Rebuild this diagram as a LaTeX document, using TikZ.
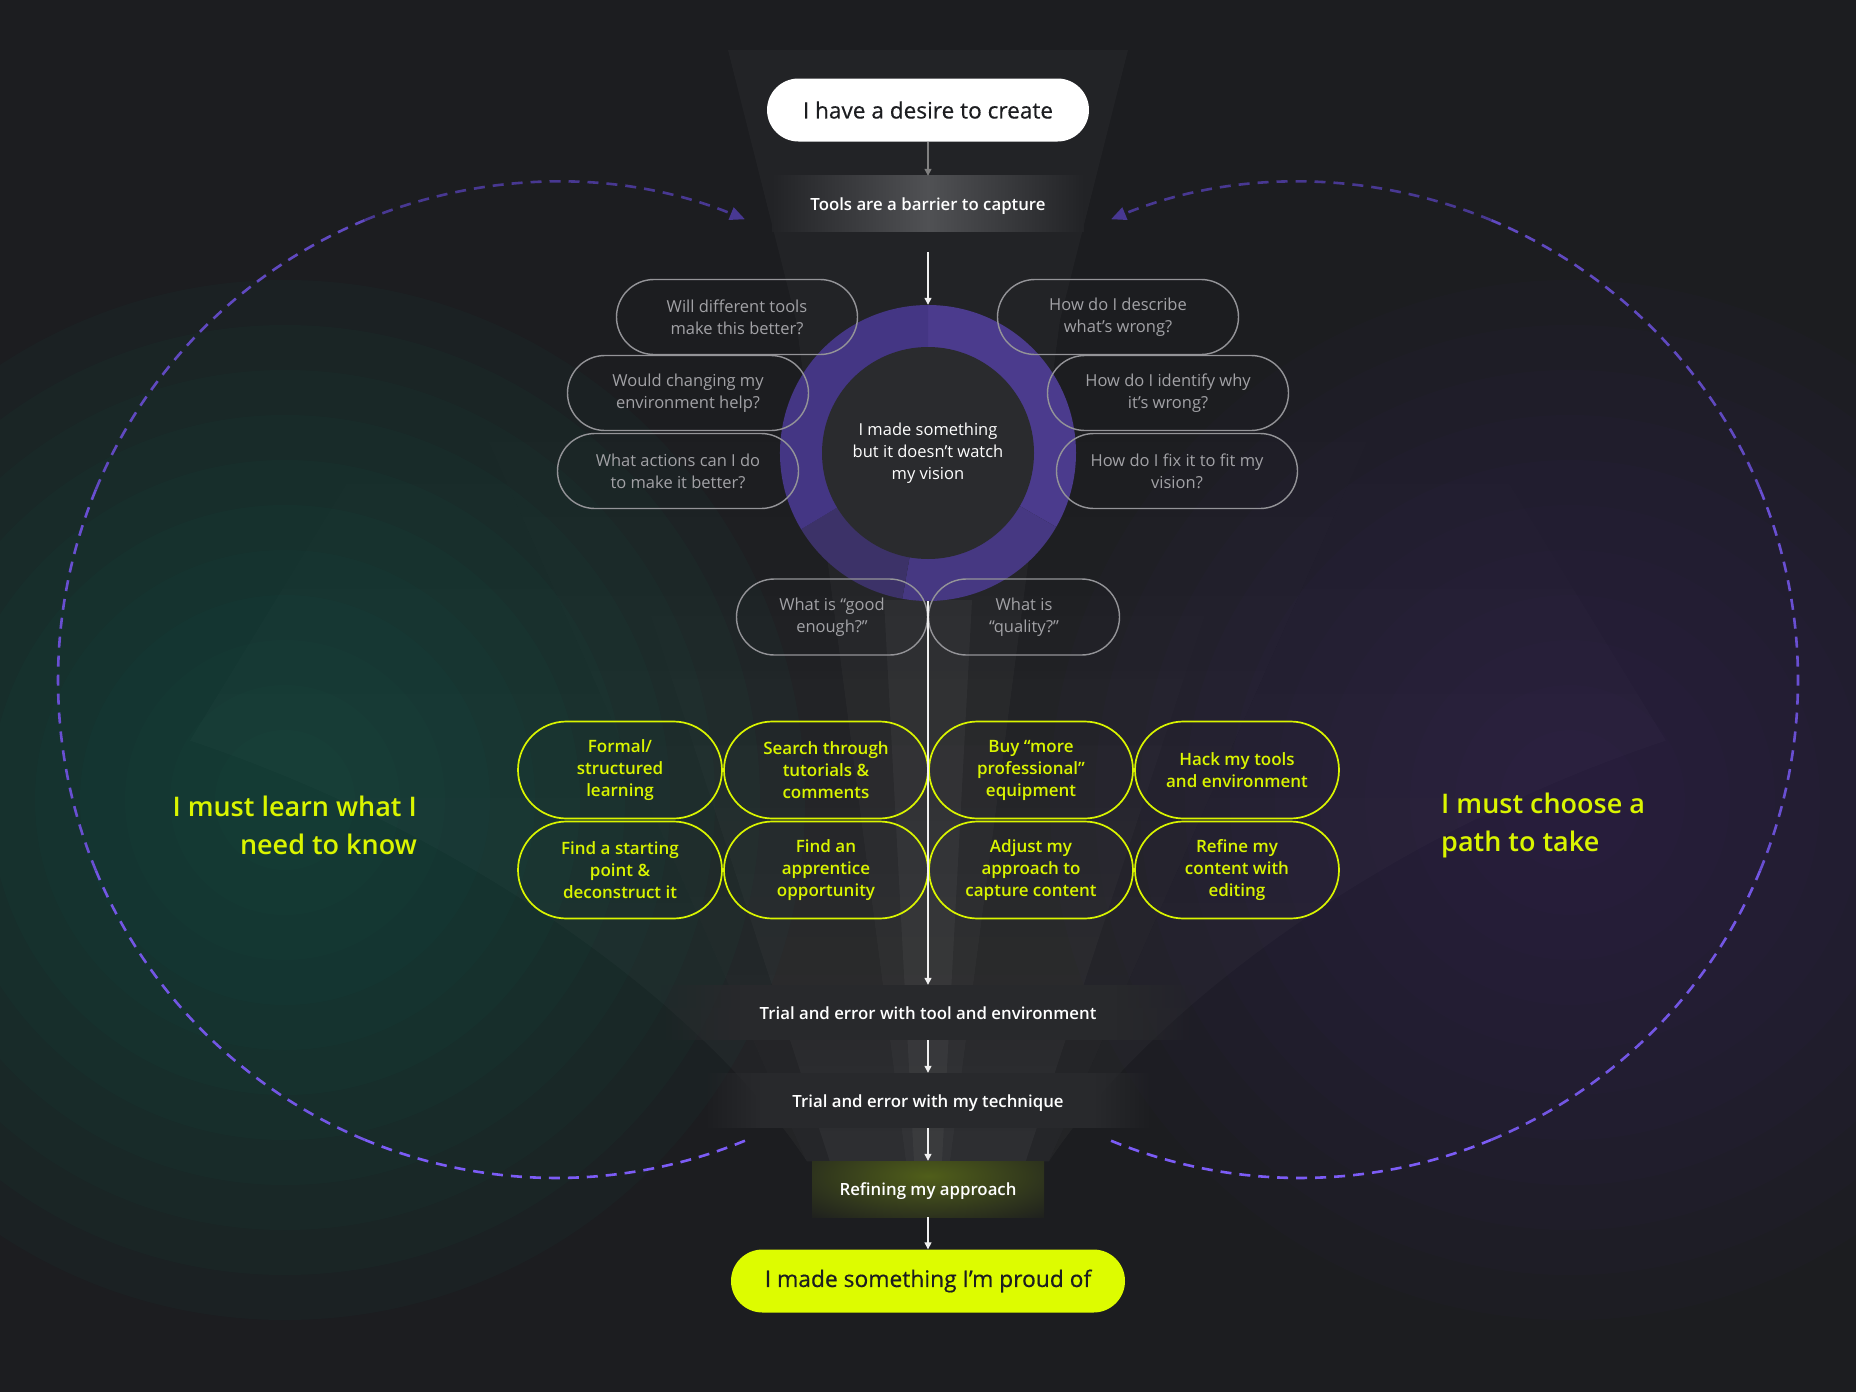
\documentclass[tikz,border=0pt]{standalone}
\usepackage{fontspec}
\IfFontExistsTF{Open Sans Semibold}{\setmainfont{Open Sans}[BoldFont={Open Sans Semibold}]}{\setmainfont{Open Sans}[BoldFont={Open Sans}, BoldFeatures={FakeBold=1.3}]}
\newfontfamily\mediumfont{Open Sans}[FakeBold=0.5]
\usetikzlibrary{shapes.misc,arrows.meta,fadings}

\definecolor{bgdark}{RGB}{28,29,32}
\definecolor{tealglow}{RGB}{20,90,76}
\definecolor{violetglow}{RGB}{56,42,96}
\definecolor{lime}{RGB}{218,245,0}
\definecolor{limefill}{RGB}{221,252,0}
\definecolor{qgray}{RGB}{148,148,152}
\definecolor{qtext}{RGB}{162,162,166}
\definecolor{dashhi}{RGB}{124,92,246}
\definecolor{dashlo}{RGB}{72,56,146}
\definecolor{ringa}{RGB}{75,59,141}
\definecolor{ringb}{RGB}{70,56,130}
\definecolor{ringc}{RGB}{60,50,104}
\definecolor{ringd}{RGB}{68,54,132}
\definecolor{innergray}{RGB}{42,43,46}
\definecolor{stagegray}{RGB}{40,41,44}
\definecolor{toolsedge}{RGB}{34,35,38}
\definecolor{toolsmid}{RGB}{80,81,84}
\definecolor{olive}{RGB}{80,94,26}
\definecolor{olivedark}{RGB}{31,33,30}

\begin{document}
\begin{tikzpicture}[x=1pt,y=-1pt,
  pill/.style={rounded rectangle, inner sep=0pt, align=center},
  question/.style={pill, draw=qgray, line width=1.4pt, text=qtext, minimum width=241pt, minimum height=75pt, font=\fontsize{16.5}{22}\selectfont},
  idea/.style={pill, draw=lime, line width=1.7pt, text=lime, minimum width=204pt, minimum height=97pt, font=\fontsize{17}{22}\selectfont\bfseries},
  stage/.style={inner sep=0pt, text=white, minimum height=55pt, text height=13pt, text depth=0pt, font=\fontsize{16.8}{22}\selectfont\bfseries},
  sidelabel/.style={inner sep=0pt, text=lime, font=\fontsize{27}{38}\selectfont\bfseries},
  flow/.style={draw=white!88!gray, line width=1.3pt, -{Triangle[length=7pt,width=7pt]}},
  loopdash/.style={line width=2.6pt, dash pattern=on 11pt off 8pt},
  beam/.style={fill=white, fill opacity=#1}]
\useasboundingbox (0,0) rectangle (1856,1392);
\clip (0,0) rectangle (1856,1392);
\fill[bgdark] (0,0) rectangle (1856,1392);

\foreach \r in {520,475,...,40}
  \fill[tealglow, fill opacity=0.07] (285,800) circle (\r);
\foreach \r in {520,475,...,40}
  \fill[violetglow, fill opacity=0.06] (1570,800) circle (\r);

\fill[beam=0.03, path fading=north] (807,1161) .. controls (700,1000) and (460,830) .. (190,740) -- (440,330) -- cycle;
\fill[beam=0.03, path fading=north] (1049,1161) .. controls (1156,1000) and (1396,830) .. (1666,740) -- (1416,330) -- cycle;
\fill[beam=0.045, path fading=north] (807,1161) -- (440,330) -- (1416,330) -- (1049,1161) -- cycle;
\fill[beam=0.04, path fading=north] (830,1161) -- (620,520) -- (1236,520) -- (1026,1161) -- cycle;
\fill[beam=0.026] (728,50) -- (1128,50) -- (1060,320) -- (950,1161) -- (906,1161) -- (796,320) -- cycle;
\fill[beam=0.04] (884,600) -- (972,600) -- (942,1161) -- (914,1161) -- cycle;

\coordinate (cL) at (556,680);
\coordinate (cR) at (1300,680);
\foreach \s/\e/\p in {67.7/112.6/100, 112.6/157.5/82, 157.5/202.5/64, 202.5/247.4/46}
  \draw[loopdash, draw=dashhi!\p!dashlo] (cL) ++(\s:498) arc[start angle=\s, end angle=\e, radius=498];
\draw[loopdash, draw=dashlo, -{Triangle[length=15pt,width=13pt]}] (cL) ++(247.4:498) arc[start angle=247.4, end angle=292.3, radius=498];
\foreach \s/\e/\p in {112.3/67.4/100, 67.4/22.5/82, 22.5/-22.5/64, -22.5/-67.4/46}
  \draw[loopdash, draw=dashhi!\p!dashlo] (cR) ++(\s:498) arc[start angle=\s, end angle=\e, radius=498];
\draw[loopdash, draw=dashlo, -{Triangle[length=15pt,width=13pt]}] (cR) ++(-67.4:498) arc[start angle=-67.4, end angle=-112.3, radius=498];

\node[circle, minimum size=296pt, inner sep=0pt] (ring) at (928,453) {};
\foreach \a/\b/\c in {270/390/ringa, 30/100/ringb, 100/149/ringc, 149/270/ringd}
  \fill[\c] (ring.center) -- ++(\a:148) arc[start angle=\a, end angle=\b, radius=148] -- cycle;
\node[circle, fill=innergray, minimum size=212pt, inner sep=0pt, text=white, align=center, font=\fontsize{16.5}{22}\selectfont] (vision) at (ring.center) {I made something\\but it doesn’t watch\\my vision};

\shade[left color=toolsedge, right color=toolsedge, middle color=toolsmid] (772,175) rectangle (1084,231);
\fill[stagegray] (740,985) rectangle (1116,1040);
\fill[stagegray, path fading=west] (660,985) rectangle (740,1040);
\fill[stagegray, path fading=east] (1116,985) rectangle (1196,1040);
\fill[stagegray] (760,1073) rectangle (1096,1128);
\fill[stagegray, path fading=west] (703,1073) rectangle (760,1128);
\fill[stagegray, path fading=east] (1096,1073) rectangle (1153,1128);
\begin{scope}
  \clip (812,1161) rectangle (1044,1217);
  \fill[olivedark] (812,1161) rectangle (1044,1217);
  \shade[inner color=olive, outer color=olivedark] (760,1120) rectangle (1096,1232);
\end{scope}

\node[pill, fill=white, text=bgdark, minimum width=322pt, minimum height=63pt, font=\fontsize{22.6}{26}\mediumfont] (desire) at (928,110) {I have a desire to create};
\node[stage, minimum height=56pt] (tools) at (928,204) {Tools are a barrier to capture};

\node[question] (q1) at (737,317) {Will different tools\\make this better?};
\node[question] (q2) at (1118,317) {How do I describe\\what’s wrong?};
\node[question] (q3) at (688,393) {Would changing my\\environment help?};
\node[question] (q4) at (1168,393) {How do I identify why\\it’s wrong?};
\node[question] (q5) at (678,471) {What actions can I do\\to make it better?};
\node[question] (q6) at (1177,471) {How do I fix it to fit my\\vision?};
\node[question, minimum width=191pt, minimum height=76pt] (q7) at (832,617) {What is “good\\enough?”};
\node[question, minimum width=191pt, minimum height=76pt] (q8) at (1024,617) {What is\\“quality?”};

\node[idea] (g1) at (620,770) {Formal/\\structured\\learning};
\node[idea] (g2) at (826,770) {Search through\\tutorials \&\\comments};
\node[idea] (g3) at (1031,770) {Buy “more\\professional”\\equipment};
\node[idea] (g4) at (1237,770) {Hack my tools\\and environment};
\node[idea] (g5) at (620,870) {Find a starting\\point \&\\deconstruct it};
\node[idea] (g6) at (826,870) {Find an\\apprentice\\opportunity};
\node[idea] (g7) at (1031,870) {Adjust my\\approach to\\capture content};
\node[idea] (g8) at (1237,870) {Refine my\\content with\\editing};

\node[stage] (trialA) at (928,1012.5) {Trial and error with tool and environment};
\node[stage] (trialB) at (928,1100.5) {Trial and error with my technique};
\node[stage, minimum height=56pt] (refine) at (928,1189) {Refining my approach};
\node[pill, fill=limefill, text=bgdark, minimum width=394pt, minimum height=63pt, font=\fontsize{22.8}{26}\mediumfont] (proud) at (928,1281) {I made something I’m proud of};

\node[sidelabel, anchor=east, align=right] (learn) at (417,825) {I must learn what I\\need to know};
\node[sidelabel, anchor=west, align=left] (choose) at (1441,825) {I must choose a\\path to take};

\draw[flow, draw=gray] (desire.south) -- (tools.north);
\draw[flow] (tools.south) ++(0,20) -- (ring.north);
\draw[flow] (ring.south) -- (trialA.north);
\draw[flow] (trialA.south) -- (trialB.north);
\draw[flow] (trialB.south) -- (refine.north);
\draw[flow] (refine.south) -- (proud.north);
\end{tikzpicture}
\end{document}
